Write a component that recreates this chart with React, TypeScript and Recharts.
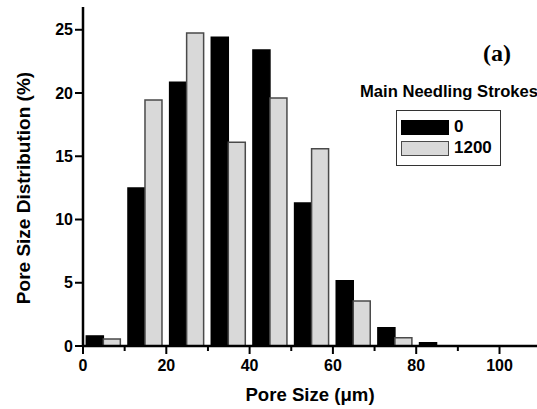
import { Bar, BarChart, Legend, XAxis, YAxis } from "recharts";

// bin centres (um) and pore size distribution (%) per needling setting
const binCenters = [5, 15, 25, 35, 45, 55, 65, 75, 85];
const strokes0 = [0.8, 12.5, 20.85, 24.4, 23.4, 11.3, 5.15, 1.45, 0.25];
const strokes1200 = [0.55, 19.45, 24.75, 16.1, 19.6, 15.6, 3.55, 0.65, 0];

const xTicks = [0, 10, 20, 30, 40, 50, 60, 70, 80, 90, 100];
const yTicks = [0, 5, 10, 15, 20, 25];

const series = [
  { key: "s0", name: "0", fill: "#000000", stroke: "#000000" },
  { key: "s1200", name: "1200", fill: "#d9d9d9", stroke: "#4a4a4a" },
];

const data = binCenters.map((x, i) => ({
  x,
  s0: strokes0[i],
  s1200: strokes1200[i],
}));

const FONT = "'Liberation Sans', Arial, Helvetica, sans-serif";

const XTick = (props: any) => {
  const { x, y, payload } = props;
  const major = payload.value % 20 === 0;
  return (
    <g>
      <line x1={x} x2={x} y1={y} y2={y + (major ? 8 : 5)} stroke="#000" strokeWidth={2} />
      {major && (
        <text
          x={x}
          y={y + 25}
          textAnchor="middle"
          fontSize={16}
          fontWeight="bold"
          fontFamily={FONT}
          fill="#000"
        >
          {payload.value}
        </text>
      )}
    </g>
  );
};

const renderLegend = () => (
  <div style={{ position: "relative", width: 200, height: 170, fontFamily: FONT }}>
    <div
      style={{
        position: "absolute",
        left: 130,
        top: 30,
        fontFamily: "'Liberation Serif', 'Times New Roman', serif",
        fontWeight: "bold",
        fontSize: 24,
        whiteSpace: "nowrap",
      }}
    >
      (a)
    </div>
    <div
      style={{
        position: "absolute",
        left: 7,
        top: 73,
        fontWeight: "bold",
        fontSize: 16.6,
        whiteSpace: "nowrap",
        lineHeight: "18px",
      }}
    >
      Main Needling Strokes
    </div>
    <div
      style={{
        position: "absolute",
        left: 43,
        top: 100,
        width: 105,
        height: 56,
        border: "1.5px solid #333",
        boxSizing: "border-box",
      }}
    >
      {series.map((s, i) => (
        <div
          key={s.key}
          style={{
            position: "absolute",
            left: 4,
            top: 8 + i * 21,
            display: "flex",
            alignItems: "center",
            fontWeight: "bold",
            fontSize: 17,
            lineHeight: "16px",
          }}
        >
          <span
            style={{
              display: "inline-block",
              width: 48,
              height: 15,
              background: s.fill,
              border: `1.5px solid ${s.stroke}`,
              boxSizing: "border-box",
              marginRight: 5,
            }}
          />
          {s.name}
        </div>
      ))}
    </div>
  </div>
);

export default function App() {
  return (
    <div
      style={{
        position: "absolute",
        left: 0,
        top: 0,
        width: 537,
        height: 409,
        overflow: "hidden",
        background: "#fff",
      }}
    >
      <BarChart
        width={537}
        height={409}
        data={data}
        margin={{ top: 7, right: 0, left: 0, bottom: 0 }}
        barCategoryGap="8%"
        barGap={0}
      >
        <XAxis
          dataKey="x"
          type="number"
          domain={[0, 109]}
          ticks={xTicks}
          interval={0}
          height={63}
          axisLine={{ stroke: "#000", strokeWidth: 2.5 }}
          tickLine={false}
          tickSize={0}
          tickMargin={0}
          tick={<XTick />}
          allowDataOverflow
          label={{
            value: "Pore Size (\u03bcm)",
            position: "insideBottom",
            offset: 8,
            fontSize: 18.6,
            fontWeight: "bold",
            fontFamily: FONT,
            fill: "#000",
          }}
        />
        <XAxis
          xAxisId="top"
          orientation="top"
          type="number"
          domain={[0, 109]}
          height={0}
          tick={false}
          tickLine={false}
          axisLine={{ stroke: "#000", strokeWidth: 2.5 }}
        />
        <YAxis
          type="number"
          domain={[0, 26.8]}
          ticks={yTicks}
          interval={0}
          width={83}
          allowDataOverflow
          axisLine={{ stroke: "#000", strokeWidth: 2.5 }}
          tickLine={{ stroke: "#000", strokeWidth: 2 }}
          tickSize={8}
          tickMargin={2}
          tick={{ fill: "#000", fontSize: 16, fontWeight: "bold", fontFamily: FONT }}
          label={{
            content: () => (
              <text
                x={30}
                y={188}
                transform="rotate(-90 30 188)"
                textAnchor="middle"
                fontSize={19}
                fontWeight="bold"
                fontFamily={FONT}
                fill="#000"
              >
                Pore Size Distribution (%)
              </text>
            ),
          }}
        />
        <Legend
          layout="vertical"
          align="center"
          verticalAlign="middle"
          content={renderLegend}
          wrapperStyle={{ position: "absolute", left: 353, top: 10, width: 200 }}
        />
        {series.map((s) => (
          <Bar
            key={s.key}
            dataKey={s.key}
            name={s.name}
            fill={s.fill}
            stroke={s.stroke}
            strokeWidth={1.5}
            isAnimationActive={false}
          />
        ))}
      </BarChart>
    </div>
  );
}
